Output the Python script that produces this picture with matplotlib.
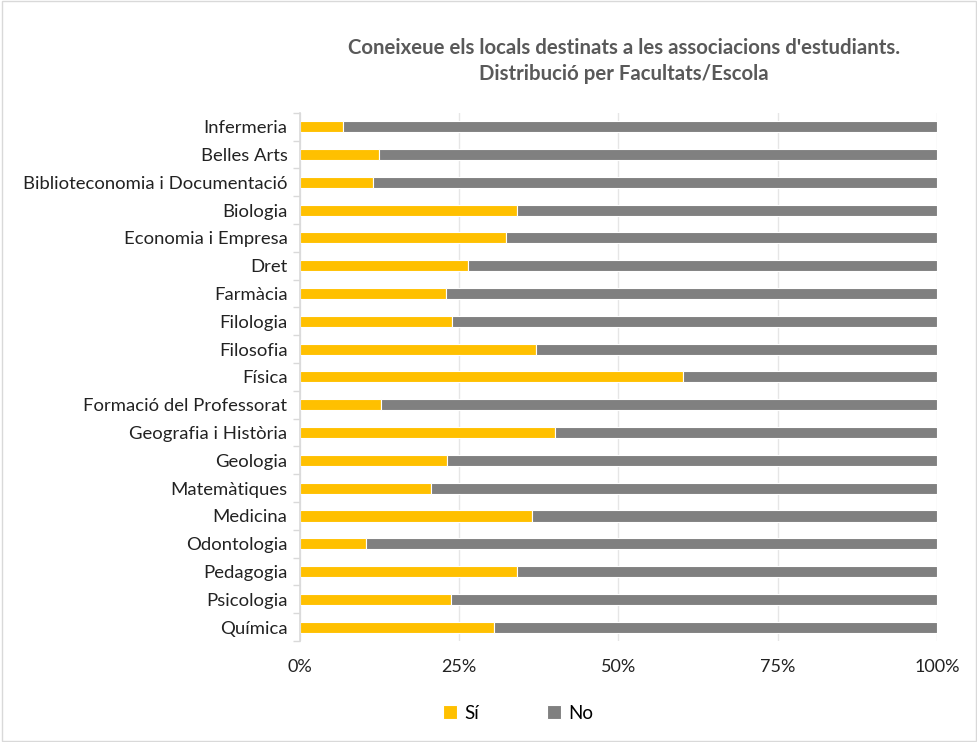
import numpy as np
import matplotlib.pyplot as plt
from matplotlib.patches import Rectangle

plt.rcParams['font.family'] = ['Lato', 'DejaVu Sans']

# Data (share of "Sí"; "No" is the rest up to 100%)
facultats = ['Infermeria', 'Belles Arts', 'Biblioteconomia i Documentació', 'Biologia',
             'Economia i Empresa', 'Dret', 'Farmàcia', 'Filologia', 'Filosofia', 'Física',
             'Formació del Professorat', 'Geografia i Història', 'Geologia', 'Matemàtiques',
             'Medicina', 'Odontologia', 'Pedagogia', 'Psicologia', 'Química']
si = [6.8, 12.4, 11.5, 34.0, 32.4, 26.4, 23.0, 23.8, 37.0, 60.1,
      12.8, 40.0, 23.1, 20.5, 36.4, 10.3, 34.0, 23.7, 30.4]
no = [100 - v for v in si]
ticks = [0, 25, 50, 75, 100]
tick_labels = ['0%', '25%', '50%', '75%', '100%']

fig = plt.figure(figsize=(9.78, 7.42), dpi=100)
fig.patches.append(Rectangle((0.002, 0.002), 0.996, 0.996, transform=fig.transFigure,
                             fill=False, edgecolor='#d9d9d9', linewidth=1))
ax = fig.add_axes([0.3067, 0.136, 0.6513, 0.712])

y = np.arange(len(facultats))
ax.barh(y, si, height=0.4, color='#FFC000', edgecolor='white', linewidth=0.8, label='Sí', zorder=2)
ax.barh(y, no, left=si, height=0.4, color='#808080', edgecolor='white', linewidth=0.8, label='No', zorder=2)

ax.set_ylim(len(facultats) - 0.5, -0.5)
ax.set_xlim(0, 100)
ax.set_yticks(y)
ax.set_yticklabels(facultats, fontsize=13.3, color='#222222')
ax.set_xticks(ticks)
ax.set_xticklabels(tick_labels, fontsize=13, color='#222222')
ax.tick_params(axis='x', length=0, pad=13)
ax.set_yticks(np.arange(len(facultats) + 1) - 0.5, minor=True)
ax.tick_params(axis='y', which='minor', length=5, color='#d9d9d9', width=1)
ax.tick_params(axis='y', which='major', length=0, pad=9)
ax.grid(axis='x', color='#e6e6e6', linewidth=1, zorder=0)
for s in ['top', 'right', 'bottom']:
    ax.spines[s].set_visible(False)
ax.spines['left'].set_color('#d9d9d9')
ax.spines['left'].set_linewidth(1.2)

fig.text(0.638, 0.918, "Coneixeue els locals destinats a les associacions d'estudiants.\nDistribució per Facultats/Escola",
         ha='center', va='center', fontsize=14.7, fontweight='bold', color='#595959', linespacing=1.35)

fig.legend(loc='center', bbox_to_anchor=(0.53, 0.039), ncol=2, frameon=False, fontsize=13.5,
           handlelength=0.75, handleheight=0.75, columnspacing=3.6, handletextpad=0.4)

fig.savefig('out.png', dpi=100)
